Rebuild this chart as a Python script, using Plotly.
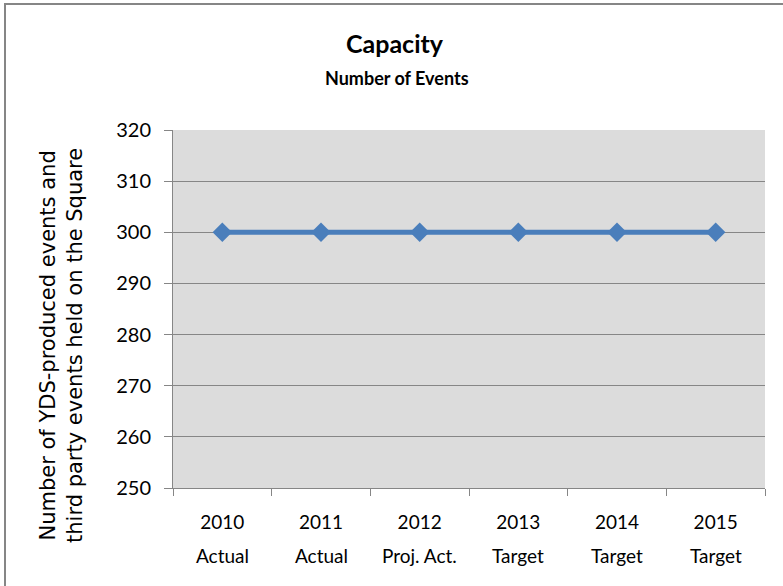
import plotly.graph_objects as go

years = ["2010", "2011", "2012", "2013", "2014", "2015"]
kinds = ["Actual", "Actual", "Proj. Act.", "Target", "Target", "Target"]
events = [300, 300, 300, 300, 300, 300]
y_ticks = [250, 260, 270, 280, 290, 300, 310, 320]

L, R, T, B = 173, 765, 130, 488
W, H = 783, 586
pw, ph = R - L, B - T

def px(x):
    return (x - L) / pw

def py(y):
    return (B - y) / ph

fig = go.Figure()
fig.add_trace(go.Scatter(
    x=years, y=events, mode="lines+markers",
    line=dict(color="#4a7ebb", width=5),
    marker=dict(symbol="diamond", size=15, color="#4a7ebb"),
    showlegend=False, cliponaxis=False,
))

font = "Lato, Open Sans, sans-serif"

annotations = [
    dict(text="<b>Capacity</b>", xref="paper", yref="paper", x=px(395), y=py(43),
         showarrow=False, font=dict(family=font, size=25), xanchor="center", yanchor="middle"),
    dict(text="<b>Number of Events</b>", xref="paper", yref="paper", x=px(397), y=py(78),
         showarrow=False, font=dict(family=font, size=18), xanchor="center", yanchor="middle"),
    dict(text="Number of YDS-produced events and<br>third party events held on the Square",
         xref="paper", yref="paper", x=px(61), y=py(346), textangle=-90,
         showarrow=False, font=dict(family="DejaVu Sans, Verdana, sans-serif", size=21),
         xanchor="center", yanchor="middle"),
]
for i, k in enumerate(kinds):
    annotations.append(dict(text=k, xref="x", yref="paper", x=i, y=py(555),
                            showarrow=False, font=dict(family=font, size=19),
                            xanchor="center", yanchor="middle"))

fig.update_layout(
    width=W, height=H,
    margin=dict(l=L, r=W - R, t=T, b=H - B),
    paper_bgcolor="white", plot_bgcolor="#dcdcdc",
    font=dict(family=font, color="black", size=19),
    xaxis=dict(
        type="category", showgrid=False, showline=True, linecolor="#868686", linewidth=1,
        ticks="outside", tickson="boundaries", ticklen=7, tickcolor="#868686",
        tickfont=dict(family=font, size=19), range=[-0.5, 5.5], ticklabelstandoff=17,
    ),
    yaxis=dict(
        range=[250, 320], tickvals=y_ticks, showgrid=True, gridcolor="#868686", gridwidth=1,
        showline=True, linecolor="#868686", linewidth=1,
        ticks="outside", ticklen=8, tickcolor="#868686",
        tickfont=dict(family=font, size=20), zeroline=False, ticklabelstandoff=9,
    ),
    shapes=[dict(type="rect", xref="paper", yref="paper",
                 x0=px(5), x1=px(800), y0=py(600), y1=py(4),
                 line=dict(color="#868686", width=2), fillcolor="rgba(0,0,0,0)", layer="below")],
    annotations=annotations,
)

fig.write_html("out.html")
